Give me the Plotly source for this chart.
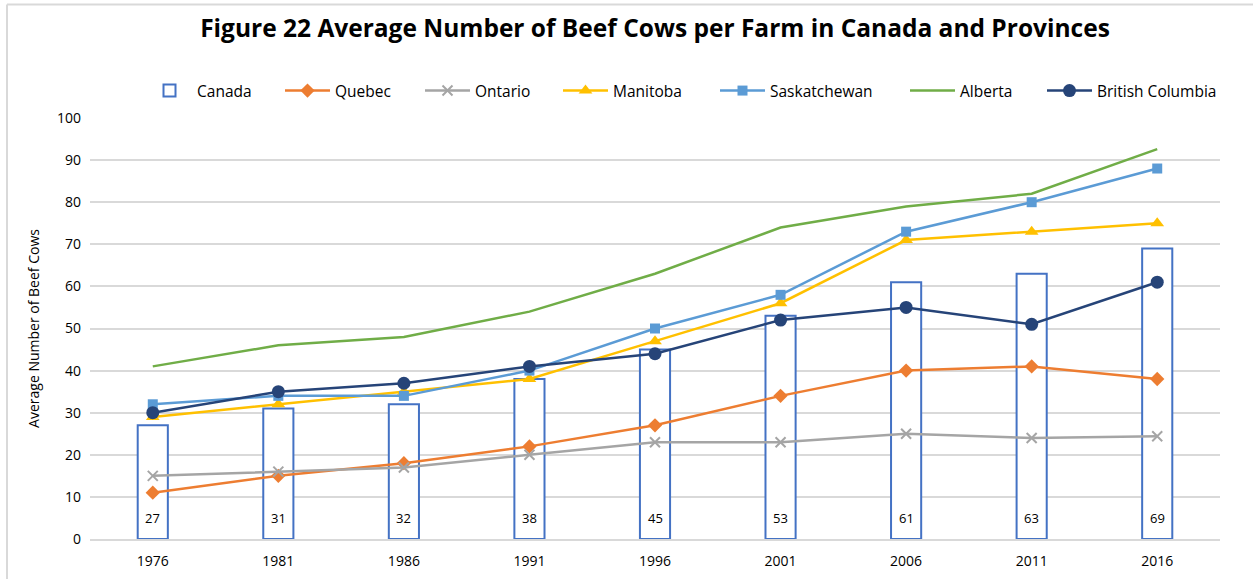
import plotly.graph_objects as go

years = ["1976", "1981", "1986", "1991", "1996", "2001", "2006", "2011", "2016"]
canada = [27, 31, 32, 38, 45, 53, 61, 63, 69]
quebec = [11, 15, 18, 22, 27, 34, 40, 41, 38]
ontario = [15, 16, 17, 20, 23, 23, 25, 24, 24.4]
manitoba = [29, 32, 35, 38, 47, 56, 71, 73, 75]
saskatchewan = [32, 34, 34, 40, 50, 58, 73, 80, 88]
alberta = [41, 46, 48, 54, 63, 74, 79, 82, 92.6]
british_columbia = [30, 35, 37, 41, 44, 52, 55, 51, 61]

W, H = 1253, 579
L, R, T, B = 90, 33, 118, 40
pw = W - L - R
ph = H - T - B

# left pixel edge of each legend entry
legend_left = [142, 280, 420, 558, 715, 905, 1042]

fig = go.Figure()

fig.add_trace(go.Bar(
    x=years, y=canada, name="Canada", legend="legend",
    marker=dict(color="white", line=dict(color="#4472C4", width=2)),
    width=0.24,
    hoverinfo="x+y",
))

# value labels near the bottom of each bar (x given as category index)
for i, v in enumerate(canada):
    fig.add_annotation(x=i, y=5, text=str(v), showarrow=False,
                       font=dict(family="Open Sans", size=13, color="#000"),
                       xref="x", yref="y")

lines = [
    ("Quebec", quebec, "#ED7D31", "diamond", 11),
    ("Ontario", ontario, "#A5A5A5", "x-thin", 10),
    ("Manitoba", manitoba, "#FFC000", "triangle-up", 12),
    ("Saskatchewan", saskatchewan, "#5B9BD5", "square", 10),
    ("Alberta", alberta, "#70AD47", None, 0),
    ("British Columbia", british_columbia, "#264478", "circle", 13),
]
for k, (name, vals, color, sym, size) in enumerate(lines):
    lg = "legend%d" % (k + 2)
    if sym is None:
        fig.add_trace(go.Scatter(x=years, y=vals, name=name, legend=lg, mode="lines",
                                 line=dict(color=color, width=2.5)))
    else:
        mk = dict(symbol=sym, size=size, color=color)
        if sym == "x-thin":
            mk["line"] = dict(color=color, width=2)
        fig.add_trace(go.Scatter(x=years, y=vals, name=name, legend=lg, mode="lines+markers",
                                 line=dict(color=color, width=2.5), marker=mk))

# outer chart frame (top and left edges visible)
fig.add_shape(type="line", xref="paper", yref="paper",
              x0=(7 - L) / pw, x1=(W + 5 - L) / pw,
              y0=1 + (T - 4.5) / ph, y1=1 + (T - 4.5) / ph,
              line=dict(color="#D9D9D9", width=2))
fig.add_shape(type="line", xref="paper", yref="paper",
              x0=(7 - L) / pw, x1=(7 - L) / pw,
              y0=1 + (T - 4.5) / ph, y1=-(B + 5) / ph,
              line=dict(color="#D9D9D9", width=2))

legend_style = dict(orientation="h", xanchor="left", y=1 + (T - 91) / ph,
                    yanchor="middle", font=dict(family="Open Sans", size=15.5, color="#000"),
                    bgcolor="rgba(0,0,0,0)", borderwidth=0, itemwidth=45)
layout_legends = {}
for k, px in enumerate(legend_left):
    key = "legend" if k == 0 else "legend%d" % (k + 1)
    layout_legends[key] = dict(legend_style, x=(px - L) / pw)

fig.update_layout(
    width=W, height=H,
    margin=dict(l=L, r=R, t=T, b=B, autoexpand=False),
    paper_bgcolor="white", plot_bgcolor="white",
    font=dict(family="Open Sans", size=14, color="#000"),
    title=dict(text="<b>Figure 22 Average Number of Beef Cows per Farm in Canada and Provinces</b>",
               x=0.5, xanchor="center", xref="paper", y=1 - 28 / H, yanchor="middle",
               font=dict(family="Open Sans", size=24.5, color="#000")),
    showlegend=True,
    **layout_legends,
)
fig.update_xaxes(type="category", range=[-0.5, len(years) - 0.5], automargin=False,
                 showgrid=False, showline=True, linecolor="#D9D9D9",
                 linewidth=2, ticks="", tickfont=dict(size=14), ticklabelstandoff=8)
fig.update_yaxes(range=[0, 100], dtick=10, showgrid=True, gridcolor="#D9D9D9", gridwidth=2,
                 zeroline=False, ticks="", tickfont=dict(size=14), ticklabelstandoff=8,
                 automargin=False,
                 title=dict(text="Average Number of Beef Cows", font=dict(size=14), standoff=14))

fig.write_html("out.html")
